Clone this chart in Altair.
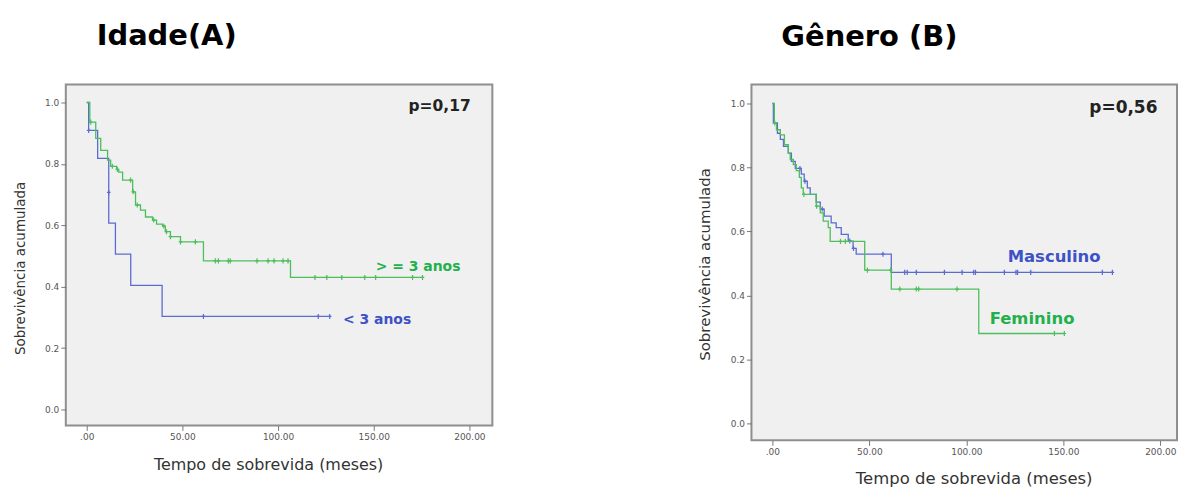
import altair as alt
import pandas as pd

# ---------------- Panel A : Idade ----------------
A_lt3_t = [0, 1.0, 5.7, 11.5, 15.0, 23.0, 39.4, 127.0]
A_lt3_s = [1.0, 0.909, 0.818, 0.607, 0.506, 0.404, 0.303, 0.303]
A_lt3_cens_t = [1.0, 11.5, 61.0, 121.0, 127.0]
A_lt3_cens_s = [0.909, 0.707, 0.303, 0.303, 0.303]

A_ge3_t = [0, 1.6, 4.7, 7.3, 10.9, 12.5, 15.6, 16.7, 18.75, 24.0, 25.5, 28.1, 30.7,
           34.4, 36.5, 39.6, 41.1, 43.75, 49.0, 61.0, 106.5, 175.5]
A_ge3_s = [1.0, 0.936, 0.883, 0.844, 0.812, 0.792, 0.782, 0.773, 0.747, 0.709, 0.666,
           0.649, 0.627, 0.617, 0.604, 0.597, 0.579, 0.563, 0.546, 0.484, 0.43, 0.43]
A_ge3_cens_t = [2.1, 13.4, 16.0, 22.9, 24.3, 26.4, 35.0, 40.3, 41.7, 43.75, 49.0, 56.8,
                67.2, 68.8, 74.0, 75.0, 89.0, 94.8, 97.9, 102.6, 105.2,
                119.3, 125.5, 133.3, 145.3, 151.0, 170.3, 175.5]
A_ge3_cens_s = [0.936, 0.792, 0.782, 0.747, 0.709, 0.666, 0.617, 0.597, 0.579, 0.563, 0.546, 0.546,
                0.484, 0.484, 0.484, 0.484, 0.484, 0.484, 0.484, 0.484, 0.484,
                0.43, 0.43, 0.43, 0.43, 0.43, 0.43, 0.43]

A_labels = ["> = 3 anos", "< 3 anos"]
A_label_t = [151.0, 133.9]
A_label_s = [0.464, 0.29]
A_p_text = "p=0,17"
A_p_t, A_p_s = 168.2, 0.99

# ---------------- Panel B : Gênero ----------------
B_masc_t = [0, 0.5, 2.6, 4.1, 5.7, 8.2, 9.8, 11.8, 14.9, 16.4, 18.0, 19.5, 22.6, 24.7,
            26.7, 30.3, 32.9, 35.5, 39.1, 41.6, 43.2, 61.3, 175.3]
B_masc_s = [1.0, 0.939, 0.907, 0.888, 0.866, 0.845, 0.819, 0.797, 0.779, 0.757, 0.736,
            0.716, 0.692, 0.670, 0.648, 0.627, 0.612, 0.591, 0.570, 0.547, 0.529, 0.472, 0.472]
B_masc_cens_t = [14.2, 16.8, 25.7, 39.9, 41.8, 57.0,
                 68.2, 69.5, 74.2, 88.7, 97.8, 103.8, 104.7, 119.6, 125.6, 126.4, 133.2, 170.1, 175.3]
B_masc_cens_s = [0.797, 0.757, 0.670, 0.570, 0.547, 0.529,
                 0.472, 0.472, 0.472, 0.472, 0.472, 0.472, 0.472, 0.472, 0.472, 0.472, 0.472, 0.472, 0.472]

B_fem_t = [0, 1.0, 2.1, 4.1, 6.2, 8.2, 9.2, 10.8, 12.3, 13.9, 14.9, 15.9, 22.6, 24.7,
           26.2, 28.8, 29.8, 47.6, 61.3, 106.4, 150.5]
B_fem_s = [1.0, 0.939, 0.918, 0.902, 0.871, 0.845, 0.825, 0.809, 0.790, 0.769, 0.736,
           0.716, 0.679, 0.658, 0.632, 0.612, 0.569, 0.479, 0.420, 0.281, 0.281]
B_fem_cens_t = [1.2, 16.2, 22.8, 35.1, 37.6, 49.0, 61.0, 65.7, 74.2, 75.4, 95.2, 145.4, 150.5]
B_fem_cens_s = [0.939, 0.716, 0.679, 0.569, 0.569, 0.479, 0.479, 0.42, 0.42, 0.42, 0.42, 0.281, 0.281]

B_labels = ["Masculino", "Feminino"]
B_label_t = [121.3, 112.0]
B_label_s = [0.52, 0.327]
B_p_text = "p=0,56"
B_p_t, B_p_s = 163.4, 0.985

X_TICKS = [0, 50, 100, 150, 200]
Y_TICKS = [0.0, 0.2, 0.4, 0.6, 0.8, 1.0]

# ---------------- styles ----------------
FONT = "DejaVu Sans"
BLUE_LINE = "#5b6ccf"
GREEN_LINE = "#4cbf5c"
BLUE_TXT = "#3d52c6"
GREEN_TXT = "#22b04c"
CENSOR = "M0,-1L0,1M-0.7,0L0.7,0"


def panel(series, labels, ptext, pt, ps, title, width, height, xdom, ydom,
          xtitle_size, ytitle_size, xtx, xty, ytx, yty, label_size, p_size, title_x, title_y):
    xs = alt.Scale(domain=xdom, nice=False, zero=False)
    ys = alt.Scale(domain=ydom, nice=False, zero=False)
    xaxis = alt.Axis(values=X_TICKS,
                     labelExpr="datum.value == 0 ? '.00' : format(datum.value, '.2f')",
                     title="Tempo de sobrevida (meses)", titleX=xtx, titleY=xty,
                     titleAlign="center", titleBaseline="middle",
                     titleFontSize=xtitle_size)
    yaxis = alt.Axis(values=Y_TICKS, format=".1f", title="Sobrevivência acumulada",
                     titleX=ytx, titleY=yty, titleAlign="center", titleBaseline="middle",
                     titleFontSize=ytitle_size)
    X = lambda: alt.X("t:Q", scale=xs, axis=xaxis)
    Y = lambda: alt.Y("s:Q", scale=ys, axis=yaxis)
    layers = []
    for (t, s, ct, cs, col) in series:
        df = pd.DataFrame({"t": t, "s": s})
        layers.append(alt.Chart(df).mark_line(interpolate="step-after", color=col,
                                              strokeWidth=1.3, clip=True)
                      .encode(x=X(), y=Y()))
        cdf = pd.DataFrame({"t": ct, "s": cs})
        layers.append(alt.Chart(cdf).mark_point(shape=CENSOR, size=26, color=col,
                                                strokeWidth=1.2, filled=False, opacity=1)
                      .encode(x=X(), y=Y()))
    for (txt, lt, ls, col) in labels:
        ldf = pd.DataFrame({"t": [lt], "s": [ls], "txt": [txt]})
        layers.append(alt.Chart(ldf).mark_text(align="left", baseline="middle", font=FONT,
                                               fontWeight="bold", fontSize=label_size, color=col)
                      .encode(x=X(), y=Y(), text="txt:N"))
    pdf = pd.DataFrame({"t": [pt], "s": [ps], "txt": [ptext]})
    layers.append(alt.Chart(pdf).mark_text(align="left", baseline="middle", font=FONT,
                                           fontWeight="bold", fontSize=p_size, color="#222222")
                  .encode(x=X(), y=Y(), text="txt:N"))
    tdf = pd.DataFrame({"txt": [title]})
    layers.append(alt.Chart(tdf).mark_text(align="left", baseline="middle", font=FONT,
                                           fontWeight="bold", fontSize=29, color="#000000")
                  .encode(x=alt.value(title_x), y=alt.value(title_y), text="txt:N"))
    return alt.layer(*layers).properties(width=width, height=height)


panelA = panel(
    series=[(A_lt3_t, A_lt3_s, A_lt3_cens_t, A_lt3_cens_s, BLUE_LINE),
            (A_ge3_t, A_ge3_s, A_ge3_cens_t, A_ge3_cens_s, GREEN_LINE)],
    labels=[(A_labels[0], A_label_t[0], A_label_s[0], GREEN_TXT),
            (A_labels[1], A_label_t[1], A_label_s[1], BLUE_TXT)],
    ptext=A_p_text, pt=A_p_t, ps=A_p_s, title="Idade(A)",
    width=428, height=342, xdom=[-10.94, 212.0], ydom=[-0.052, 1.0584],
    xtitle_size=16, ytitle_size=13.5, xtx=203, xty=39, ytx=-45, yty=184,
    label_size=14, p_size=15.5, title_x=31, title_y=-49)

panelB = panel(
    series=[(B_masc_t, B_masc_s, B_masc_cens_t, B_masc_cens_s, BLUE_LINE),
            (B_fem_t, B_fem_s, B_fem_cens_t, B_fem_cens_s, GREEN_LINE)],
    labels=[(B_labels[0], B_label_t[0], B_label_s[0], BLUE_TXT),
            (B_labels[1], B_label_t[1], B_label_s[1], GREEN_TXT)],
    ptext=B_p_text, pt=B_p_t, ps=B_p_s, title="Gênero (B)",
    width=427, height=357, xdom=[-10.79, 208.6], ydom=[-0.053, 1.0592],
    xtitle_size=16.5, ytitle_size=15, xtx=223, xty=38, ytx=-47, yty=180,
    label_size=16.5, p_size=17, title_x=30, title_y=-48)

chart = alt.hconcat(panelA, panelB, spacing=260, bounds="flush").properties(
    padding={"left": 5, "top": 12, "right": 0, "bottom": 0}
).configure_view(
    fill="#f0f0f0", stroke="#8e8e8e", strokeWidth=2
).configure_axis(
    grid=False, domain=False, labelFont=FONT, labelFontSize=9, labelColor="#555555",
    tickColor="#777777", tickSize=5, tickWidth=1, labelPadding=2,
    titleFont=FONT, titleFontWeight="normal", titleColor="#333333"
)

chart.save("out.html", embed_options={"renderer": "svg", "actions": False})
